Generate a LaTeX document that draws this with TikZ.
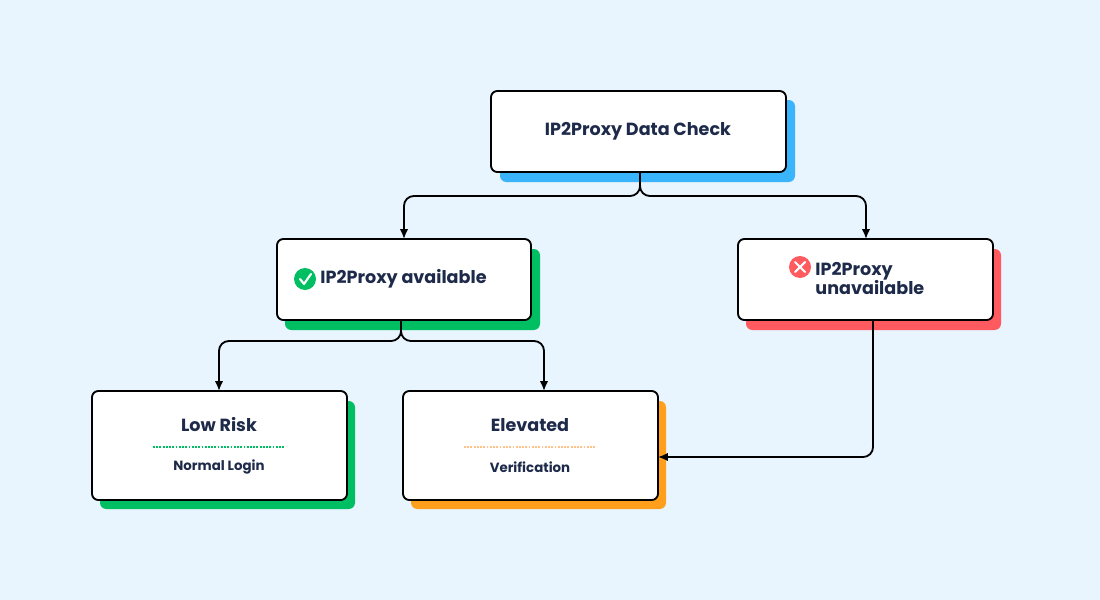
\documentclass[tikz,border=0pt]{standalone}
\usepackage{fontspec}
\setmainfont{Poppins}
\usetikzlibrary{arrows.meta}
\definecolor{bg}{HTML}{E8F4FE}
\definecolor{ink}{HTML}{1E2A4A}
\definecolor{Blue}{HTML}{3AB4FB}
\definecolor{Green}{HTML}{00BF63}
\definecolor{Red}{HTML}{FF5A5F}
\definecolor{Orange}{HTML}{FF9F1C}
\definecolor{Peach}{HTML}{FFC38A}
\tikzset{
  card/.style={draw=black, line width=2.6pt, fill=white, rounded corners=9pt},
  shade/.style={fill=#1, rounded corners=9pt},
  link/.style={line width=2.6pt, rounded corners=14pt, -{Latex[length=14pt,width=12pt]}},
  txt/.style={text=ink, font=\fontsize{25}{30}\selectfont\bfseries, align=left},
  sub/.style={text=ink, font=\fontsize{19}{22}\selectfont\bfseries}
}
\begin{document}
\begin{tikzpicture}[x=0.05cm, y=-0.05cm]
 \fill[bg] (0,0) rectangle (1100,600);

 %%%%%%%%%% Shadows %%%%%%%%%%
 \fill[shade=Blue] (500,100) rectangle (795,182);
 \fill[shade=Green] (285,249) rectangle (540,330);
 \fill[shade=Red] (746,249) rectangle (1001,330);
 \fill[shade=Green] (100,401) rectangle (355,509);
 \fill[shade=Orange] (411,401) rectangle (666,509);

 %%%%%%%%%% Cards %%%%%%%%%%
 \draw[card] (491,91) rectangle (786,172);
 \draw[card] (277,239) rectangle (531,320);
 \draw[card] (738,239) rectangle (993,320);
 \draw[card] (92,391) rectangle (347,500);
 \draw[card] (403,391) rectangle (658,500);

 %%%%%%%%%% Texts %%%%%%%%%%
 \node[txt] (check) at (638,131) {IP2Proxy Data Check};
 \node[txt, anchor=west] (avail) at (318,279) {IP2Proxy available};
 \node[txt, anchor=west] (unavail) at (813,279) {IP2Proxy\\[-3pt]unavailable};
 \node[txt] (low) at (219,425) {Low Risk};
 \node[sub] (normal) at (219,467) {Normal Login};
 \node[txt] (elev) at (530,425) {Elevated};
 \node[sub] (verif) at (530,467) {Verification};
 \draw[Green, line width=2.6pt, dotted] (153,447) -- (285,447);
 \draw[Peach, line width=2.6pt, dotted] (464,447) -- (596,447);

 %%%%%%%%%% Icons %%%%%%%%%%
 \fill[Green] (305,279) circle (11);
 \draw[white, line width=3pt, line cap=round, line join=round] (300,279) -- (304,284) -- (311,274);
 \fill[Red] (800,267) circle (11);
 \draw[white, line width=3pt, line cap=round] (795,262) -- (805,272) (805,262) -- (795,272);

 %%%%%%%%%% Links %%%%%%%%%%
 \coordinate (c0) at (640,172);
 \coordinate (a0) at (401,320);
 \coordinate (u0) at (873,320);
 \draw[link] (c0) -- (640,196) -| (404,239);
 \draw[link] (c0) -- (640,196) -| (866,239);
 \draw[link] (a0) -- (401,341) -| (219,391);
 \draw[link] (a0) -- (401,341) -| (544,391);
 \draw[link] (u0) |- (658,457);
\end{tikzpicture}
\end{document}
